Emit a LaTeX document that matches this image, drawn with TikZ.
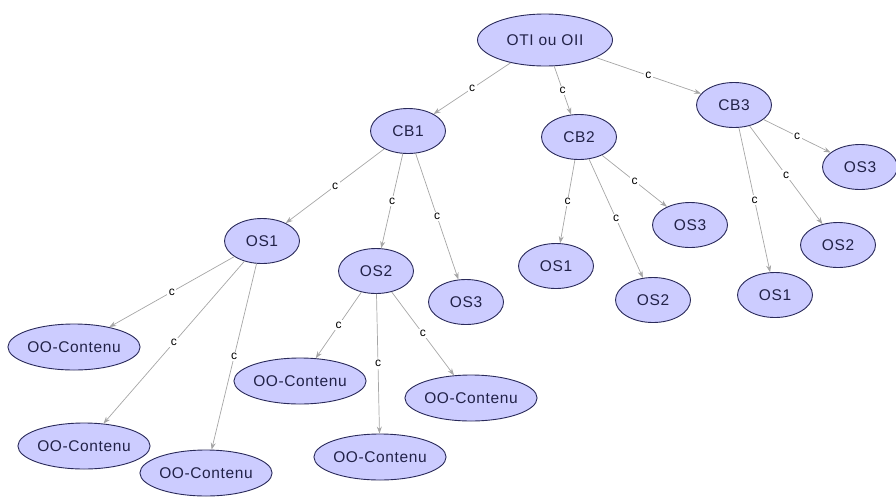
\documentclass[tikz,border=0pt]{standalone}
\usepackage{fontspec}
\setmainfont{Liberation Sans}[LetterSpace=4]
\usepackage{tikz}
\usetikzlibrary{arrows.meta,shapes.geometric}
\definecolor{lavender}{HTML}{CCCCFF}
\definecolor{navy}{HTML}{2A2A5A}
\definecolor{edgegray}{HTML}{A6A6A6}
\tikzset{
  objnode/.style={
    ellipse, draw=navy, fill=lavender, line width=0.9pt,
    minimum width=#1, minimum height=45pt,
    font=\fontsize{15.5}{17}\selectfont, text=navy!80!black,
    inner sep=0pt
  },
  objnode/.default=75pt,
  contnode/.style={objnode=130pt, minimum height=46pt},
  relarrow/.style={
    -{Stealth[length=7pt,width=5pt]}, line width=0.7pt, color=edgegray
  },
  rellabel/.style={
    fill=white, inner sep=1.5pt, text=black,
    font=\fontsize{12}{13}\selectfont, midway
  },
}
\begin{document}
\begin{tikzpicture}[x=1pt,y=-1pt]
\useasboundingbox (0,0) rectangle (896,498);
% racine et premier niveau
\node[objnode=135pt, minimum height=52pt] (oti) at (545,40) {OTI ou OII};
\node[objnode] (cb1) at (408,131) {CB1};
\node[objnode] (cb2) at (579,137) {CB2};
\node[objnode] (cb3) at (734,105) {CB3};
% sous-objets
\node[objnode] (os1a) at (262,241) {OS1};
\node[objnode] (os2a) at (376,271) {OS2};
\node[objnode] (os3a) at (466,302) {OS3};
\node[objnode] (os1b) at (556,266) {OS1};
\node[objnode] (os2b) at (653,300) {OS2};
\node[objnode] (os3b) at (690,225) {OS3};
\node[objnode] (os1c) at (775,295) {OS1};
\node[objnode] (os2c) at (838,245) {OS2};
\node[objnode] (os3c) at (860,167) {OS3};
% contenus
\node[contnode] (ooa) at (74,347) {OO-Contenu};
\node[contnode] (oob) at (84,446) {OO-Contenu};
\node[contnode] (ooc) at (206,473) {OO-Contenu};
\node[contnode] (ood) at (300,381) {OO-Contenu};
\node[contnode] (ooe) at (380,457) {OO-Contenu};
\node[contnode] (oof) at (471,398) {OO-Contenu};
% relations
\draw[relarrow] (oti) -- node[rellabel] {c} (cb1);
\draw[relarrow] (oti) -- node[rellabel] {c} (cb2);
\draw[relarrow] (oti) -- node[rellabel] {c} (cb3);
\draw[relarrow] (cb1) -- node[rellabel] {c} (os1a);
\draw[relarrow] (cb1) -- node[rellabel] {c} (os2a);
\draw[relarrow] (cb1) -- node[rellabel] {c} (os3a);
\draw[relarrow] (cb2) -- node[rellabel] {c} (os1b);
\draw[relarrow] (cb2) -- node[rellabel] {c} (os2b);
\draw[relarrow] (cb2) -- node[rellabel] {c} (os3b);
\draw[relarrow] (cb3) -- node[rellabel] {c} (os1c);
\draw[relarrow] (cb3) -- node[rellabel] {c} (os2c);
\draw[relarrow] (cb3) -- node[rellabel] {c} (os3c);
\draw[relarrow] (os1a) -- node[rellabel] {c} (ooa);
\draw[relarrow] (os1a) -- node[rellabel] {c} (oob);
\draw[relarrow] (os1a) -- node[rellabel] {c} (ooc);
\draw[relarrow] (os2a) -- node[rellabel] {c} (ood);
\draw[relarrow] (os2a) -- node[rellabel] {c} (ooe);
\draw[relarrow] (os2a) -- node[rellabel] {c} (oof);
\end{tikzpicture}
\end{document}
